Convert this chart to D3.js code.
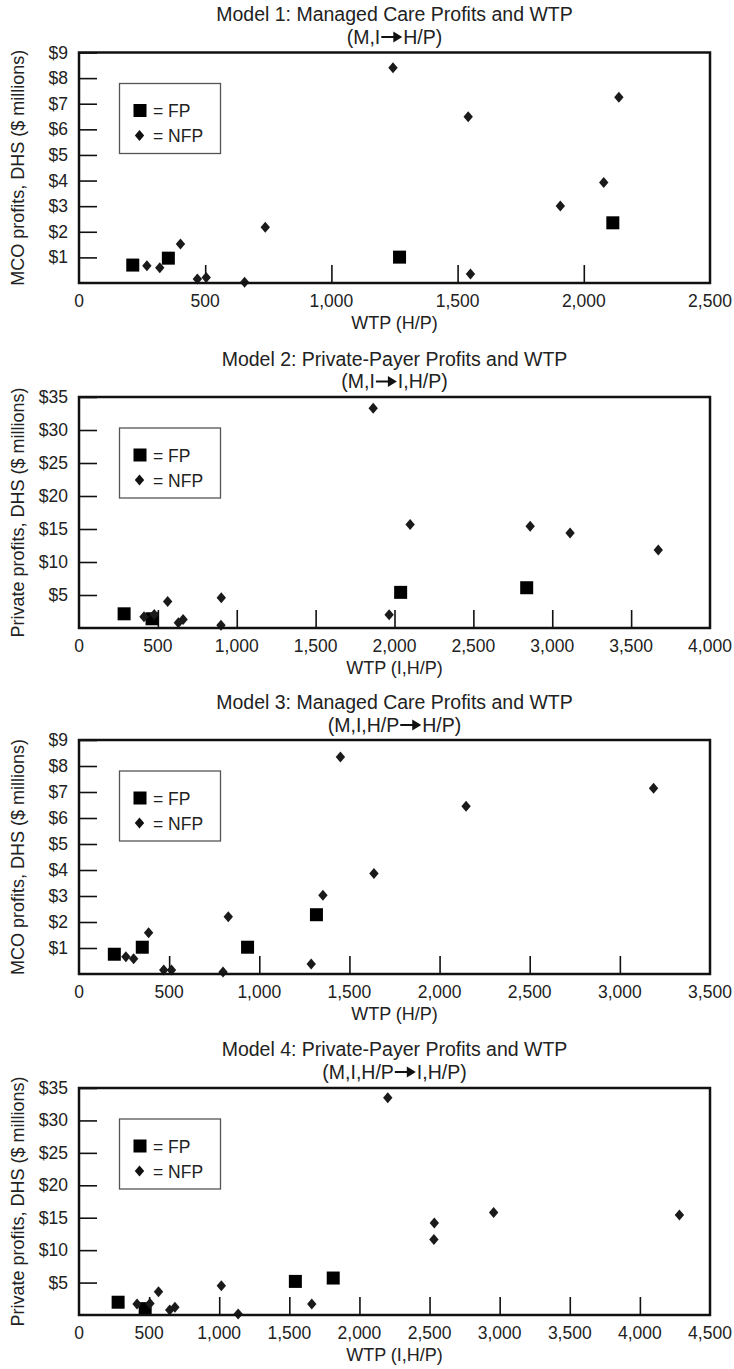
<!DOCTYPE html>
<html>
<head>
<meta charset="utf-8">
<script src="https://cdn.jsdelivr.net/npm/d3@7"></script>
<style>
  body { margin: 0; background: #fff; }
  svg text { font-family: "Liberation Sans", Arial, sans-serif; fill: #222; }
</style>
</head>
<body>
<svg id="chart" width="734" height="1369"></svg>
<script>
/* values: WTP on x, profits ($ millions) on y */

var m1FpX = [213, 354, 1270, 2115],
    m1FpY = [0.70, 0.97, 1.01, 2.35],
    m1NfpX = [1244, 2139, 1542, 2079, 1907, 738, 402, 269, 320, 469, 504, 656, 1551],
    m1NfpY = [8.40, 7.25, 6.49, 3.92, 3.01, 2.18, 1.52, 0.67, 0.60, 0.16, 0.21, 0.03, 0.35];

var m2FpX = [286, 463, 2039, 2838],
    m2FpY = [2.15, 1.4, 5.4, 6.1],
    m2NfpX = [1865, 2099, 2860, 3113, 3672, 902, 562, 412, 477, 1966, 660, 630, 900],
    m2NfpY = [33.3, 15.7, 15.4, 14.4, 11.8, 4.6, 4.0, 1.7, 2.05, 2.0, 1.3, 0.8, 0.4];

var m3FpX = [196, 351, 935, 1317],
    m3FpY = [0.76, 1.03, 1.03, 2.28],
    m3NfpX = [1450, 3187, 2147, 1636, 1353, 828, 386, 260, 303, 470, 513, 799, 1288],
    m3NfpY = [8.35, 7.14, 6.45, 3.87, 3.03, 2.20, 1.59, 0.66, 0.59, 0.15, 0.15, 0.08, 0.38];

var m4FpX = [279, 472, 1543, 1813],
    m4FpY = [1.97, 0.98, 5.18, 5.7],
    m4NfpX = [2202, 2957, 4282, 2534, 2531, 1015, 567, 414, 506, 647, 684, 1135, 1660],
    m4NfpY = [33.5, 15.8, 15.4, 14.2, 11.66, 4.5, 3.6, 1.7, 1.76, 0.78, 1.19, 0.16, 1.7];

var titles = ["Model 1: Managed Care Profits and WTP", "Model 2: Private-Payer Profits and WTP",
              "Model 3: Managed Care Profits and WTP", "Model 4: Private-Payer Profits and WTP"];
var subLeft = ["(M,I", "(M,I", "(M,I,H/P", "(M,I,H/P"];
var subRight = ["H/P)", "I,H/P)", "H/P)", "I,H/P)"];
var xTitles = ["WTP (H/P)", "WTP (I,H/P)", "WTP (H/P)", "WTP (I,H/P)"];
var yTitles = ["MCO profits, DHS ($ millions)", "Private profits, DHS ($ millions)",
               "MCO profits, DHS ($ millions)", "Private profits, DHS ($ millions)"];
var xMax = [2500, 4000, 3500, 4500];
var yMax = [9, 35, 9, 35];
var yStep = [1, 5, 1, 5];
var legendLabels = ["= FP", "= NFP"];

var svg = d3.select("#chart");

/* vertical placement of each panel */
var layout = [
  {top: 52.5, bottom: 283, title: 21, sub: 43.5},
  {top: 397, bottom: 628, title: 365.5, sub: 388},
  {top: 740, bottom: 974, title: 708.5, sub: 731.5},
  {top: 1088, bottom: 1315, title: 1056, sub: 1078.5}
];
var left = 79, right = 710;

var data = [
  [m1FpX, m1FpY, m1NfpX, m1NfpY],
  [m2FpX, m2FpY, m2NfpX, m2NfpY],
  [m3FpX, m3FpY, m3NfpX, m3NfpY],
  [m4FpX, m4FpY, m4NfpX, m4NfpY]
];

data.forEach(function(d, i) { drawPanel(i, d); });

function drawPanel(i, d) {
  var L = layout[i];
  var x = d3.scaleLinear().domain([0, xMax[i]]).range([left, right]),
      y = d3.scaleLinear().domain([0, yMax[i]]).range([L.bottom, L.top]);
  var g = svg.append("g");
  var cx = (left + right) / 2;

  // titles
  g.append("text").attr("x", cx).attr("y", L.title)
    .attr("text-anchor", "middle").style("font-size", "19.5px").text(titles[i]);

  // subtitle with drawn arrow in the middle
  var sub = g.append("g");
  var tl = sub.append("text").attr("y", L.sub).style("font-size", "19.5px").text(subLeft[i]);
  var tr = sub.append("text").attr("y", L.sub).style("font-size", "19.5px").text(subRight[i]);
  var lw = tl.node().getComputedTextLength(),
      rw = tr.node().getComputedTextLength(),
      aw = 23;
  var x0 = cx - (lw + aw + rw) / 2;
  tl.attr("x", x0);
  tr.attr("x", x0 + lw + aw);
  var ay = L.sub - 6.5, ax = x0 + lw + 1;
  sub.append("line").attr("x1", ax).attr("x2", ax + 14).attr("y1", ay).attr("y2", ay)
    .attr("stroke", "#111").attr("stroke-width", 2);
  sub.append("path").attr("d", "M" + (ax + 12) + "," + (ay - 5.5) + "L" + (ax + 21) + "," + ay + "L" + (ax + 12) + "," + (ay + 5.5) + "Z")
    .attr("fill", "#111");

  // ticks pointing inward
  var yt = d3.range(yStep[i], yMax[i] + 0.001, yStep[i]);
  var yAxis = d3.axisRight(y).tickValues(yt).tickSize(18).tickFormat("");
  g.append("g").attr("transform", "translate(" + left + ",0)").call(yAxis)
    .call(function(a) { a.select(".domain").remove(); a.selectAll("line").attr("stroke", "#111").attr("stroke-width", 1.6); });
  var xt = d3.range(500, xMax[i], 500);
  var xAxis = d3.axisTop(x).tickValues(xt).tickSize(18).tickFormat("");
  g.append("g").attr("transform", "translate(0," + L.bottom + ")").call(xAxis)
    .call(function(a) { a.select(".domain").remove(); a.selectAll("line").attr("stroke", "#111").attr("stroke-width", 1.6); });

  // tick labels
  g.selectAll(".ylab").data(yt).enter().append("text")
    .attr("x", left - 11).attr("y", function(v) { return y(v) + 6; })
    .attr("text-anchor", "end").style("font-size", "17.5px")
    .text(function(v) { return "$" + v; });
  g.selectAll(".xlab").data(d3.range(0, xMax[i] + 1, 500)).enter().append("text")
    .attr("x", function(v) { return x(v); }).attr("y", L.bottom + 24)
    .attr("text-anchor", "middle").style("font-size", "17.5px")
    .text(function(v) { return d3.format(",")(v); });

  g.append("text").attr("x", cx).attr("y", L.bottom + 46)
    .attr("text-anchor", "middle").style("font-size", "18px").text(xTitles[i]);
  g.append("text").attr("transform", "translate(24," + ((L.top + L.bottom) / 2) + ") rotate(-90)")
    .attr("text-anchor", "middle").style("font-size", "18px").text(yTitles[i]);

  // legend
  var lg = g.append("g").attr("transform", "translate(119.5," + (L.top + 31) + ")");
  lg.append("rect").attr("width", 101).attr("height", 70)
    .attr("fill", "none").attr("stroke", "#555").attr("stroke-width", 1.3);
  lg.append("rect").attr("x", 14).attr("y", 20.5).attr("width", 13).attr("height", 13).attr("fill", "#000");
  lg.append("path").attr("d", diamond(20, 52)).attr("fill", "#111");
  lg.selectAll(".lt").data(legendLabels).enter().append("text")
    .attr("x", 33.5).attr("y", function(t, k) { return 33.5 + k * 25; })
    .style("font-size", "17.5px").text(function(t) { return t; });

  // points
  var fp = d[0].map(function(v, k) { return {x: v, y: d[1][k]}; }),
      nfp = d[2].map(function(v, k) { return {x: v, y: d[3][k]}; });
  g.selectAll(".fp").data(fp).enter().append("rect")
    .attr("x", function(p) { return x(p.x) - 6.5; })
    .attr("y", function(p) { return y(p.y) - 6.5; })
    .attr("width", 13).attr("height", 13).attr("fill", "#000");
  g.selectAll(".nfp").data(nfp).enter().append("path")
    .attr("d", function(p) { return diamond(x(p.x), y(p.y)); })
    .attr("fill", "#1a1a1a");

  // frame
  g.append("rect").attr("x", left).attr("y", L.top)
    .attr("width", right - left).attr("height", L.bottom - L.top)
    .attr("fill", "none").attr("stroke", "#111").attr("stroke-width", 2.5);
}

function diamond(cx, cy) {
  return "M" + cx + "," + (cy - 5.5) + "L" + (cx + 4.7) + "," + cy + "L" + cx + "," + (cy + 5.5) + "L" + (cx - 4.7) + "," + cy + "Z";
}
</script>
</body>
</html>
